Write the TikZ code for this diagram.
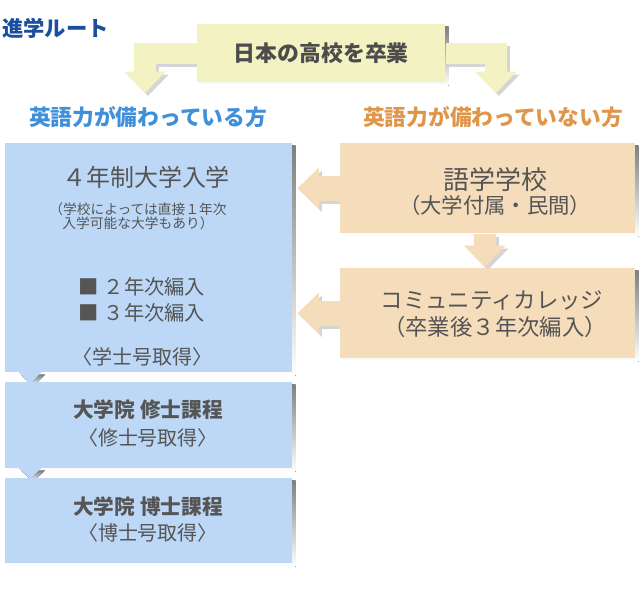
\documentclass[tikz,border=0pt]{standalone}
\usepackage{fontspec}
\setmainfont{Noto Sans CJK JP}
\usetikzlibrary{arrows.meta,calc}
\pgfdeclarelayer{shade}
\pgfdeclarelayer{back}
\pgfsetlayers{shade,back,main}
\definecolor{hsfill}{HTML}{F2F2C2}
\definecolor{univfill}{HTML}{BCD8F6}
\definecolor{langfill}{HTML}{F5DDBB}
\definecolor{shade}{HTML}{D5D5D5}
\definecolor{txtgray}{HTML}{555555}
\definecolor{routeblue}{HTML}{1C4EA0}
\definecolor{engblue}{HTML}{3F8FD9}
\definecolor{engorange}{HTML}{E0964A}
\newcommand{\fsz}[1]{\fontsize{#1}{#1}\selectfont}
\begin{document}
\begin{tikzpicture}[x=0.75pt, y=-0.75pt,
    panel/.style={anchor=north west, inner sep=0pt, minimum width=#1},
    txt/.style={text=txtgray, inner sep=0pt},
    fat/.style={line width=#1, line join=miter, -{Triangle[width=30pt,length=16pt]}}]
    \useasboundingbox (0,0) rectangle (640,605);
    \node[anchor=west, inner sep=0pt, text=routeblue, font=\fsz{16}\bfseries] (route) at (2,28) {進学ルート};
    \node[panel=186pt, minimum height=43.5pt, fill=hsfill] (hs) at (197,24) {};
    \node[txt, text=txtgray!90!black, font=\fsz{16.4}\bfseries] (hstxt) at (hs.center) {日本の高校を卒業};
    \coordinate (lend) at (145,93);
    \coordinate (rend) at (496,93);
    \node[inner sep=0pt, text=engblue, font=\fsz{16.3}\bfseries] (engyes) at (148,117) {英語力が備わっている方};
    \node[inner sep=0pt, text=engorange, font=\fsz{16.3}\bfseries] (engno) at (493,117) {英語力が備わっていない方};
    \node[panel=215.25pt, minimum height=171.75pt, fill=univfill] (univ) at (5,143) {};
    \node[txt, font=\fsz{18}] (univtitle) at (146,177) {４年制大学入学};
    \node[txt, font=\fontsize{10.3}{9.4}\selectfont, align=center] (univnote) at (138,216) {（学校によっては直接１年次\\入学可能な大学もあり）};
    \node[txt, font=\fontsize{15.2}{19.5}\selectfont, align=left] (univlist) at (142,300) {■ ２年次編入\\■ ３年次編入};
    \node[txt, font=\fsz{15}] (univdeg) at (142,357) {〈学士号取得〉};
    \node[panel=215.25pt, minimum height=64.5pt, fill=univfill] (master) at (5,382) {};
    \node[txt, font=\fsz{15.5}\bfseries] (mastertitle) at (148,410) {大学院 修士課程};
    \node[txt, font=\fsz{15}] (masterdeg) at (148,438) {〈修士号取得〉};
    \node[panel=215.25pt, minimum height=63.75pt, fill=univfill] (doctor) at (5,478) {};
    \node[txt, font=\fsz{15.5}\bfseries] (doctortitle) at (148,507) {大学院 博士課程};
    \node[txt, font=\fsz{15}] (doctordeg) at (148,533) {〈博士号取得〉};
    \node[panel=221.25pt, minimum height=67.5pt, fill=langfill] (lang) at (340,143) {};
    \node[txt, font=\fsz{19.5}] (langtitle) at (495,180) {語学学校};
    \node[txt, font=\fsz{16}] (langsub) at (495,205) {（大学付属・民間）};
    \node[panel=221.25pt, minimum height=67.5pt, fill=langfill] (cc) at (340,268) {};
    \node[txt, font=\fsz{16.8}] (cctitle) at (492,300) {コミュニティカレッジ};
    \node[txt, font=\fsz{16.8}] (ccsub) at (495,327) {（卒業後３年次編入）};
    \begin{pgfonlayer}{shade}
        \fill[white] (0,0) rectangle (640,605);
        \foreach \n in {hs,univ,master,doctor,lang,cc}
            \fill[shade] ([shift={(2.25pt,-2.25pt)}]\n.north west) rectangle ([shift={(2.25pt,-2.25pt)}]\n.south east);
    \end{pgfonlayer}
    \foreach \lay/\dx/\ca/\cb/\cc in {shade/2.25pt/shade/shade/shade, back/0pt/hsfill/langfill/univfill} {
        \begin{pgfonlayer}{\lay}
        \begin{scope}[transform canvas={shift={(\dx,-\dx)}}]
            \draw[fat=16pt, draw=\ca] (hs.west) -| (lend);
            \draw[fat=16pt, draw=\ca] (hs.east) -| (rend);
            \draw[fat=18.75pt, draw=\cb] (lang.west) -- ($(univ.east |- lang.west)+(5,0)$);
            \draw[fat=18.75pt, draw=\cb] (cc.west) -- ($(univ.east |- cc.west)+(5,0)$);
            \draw[fat=16.5pt, draw=\cb] ($(lang.south)+(-3,0)$) -- ($(cc.north)+(-3,-1)$);
            \fill[\cc] ($(univ.south west)+(13,-1)$) -- ($(univ.south west)+(37,-1)$) -- ($(univ.south west)+(25,11)$) -- cycle;
            \fill[\cc] ($(master.south west)+(13,-1)$) -- ($(master.south west)+(37,-1)$) -- ($(master.south west)+(25,10)$) -- cycle;
        \end{scope}
        \end{pgfonlayer}
    }
\end{tikzpicture}
\end{document}
